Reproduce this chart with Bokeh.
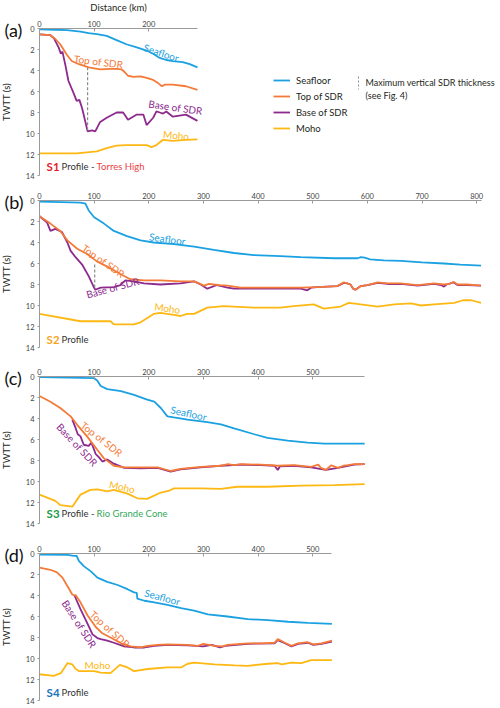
from bokeh.plotting import figure
from bokeh.models import Range1d, Label, Legend, LegendItem, Arrow, FixedTicker
from bokeh.layouts import column
from bokeh.embed import file_html
from bokeh.resources import INLINE
from bokeh.core.properties import value

# ---------------- data (distance km, TWTT s) ----------------
# Panel (a) S1 - Torres High
a_sea_x = [0, 30, 50, 75, 90, 105, 123, 141, 159, 178, 196, 208, 220, 232, 244, 262, 275, 289]
a_sea_y = [0.08, 0.12, 0.16, 0.29, 0.45, 0.54, 0.7, 1.1, 1.5, 1.8, 2.1, 2.4, 2.8, 3.0, 3.1, 3.2, 3.4, 3.7]
a_top_x = [0, 20, 29, 38, 50, 59, 72, 90, 111, 130, 141, 150, 155, 162, 172, 185, 196, 208, 217, 224, 229, 244, 268, 289]
a_top_y = [0.55, 0.64, 1.0, 1.5, 2.5, 3.1, 3.4, 3.7, 3.9, 3.85, 3.85, 3.9, 4.1, 4.5, 4.6, 4.55, 4.7, 4.9, 5.2, 5.5, 5.35, 5.35, 5.5, 5.85]
a_base_x = [0, 20, 26, 35, 39, 42, 47, 53, 62, 68, 73, 78, 84, 88, 96, 102, 111, 123, 141, 153, 162, 178, 190, 196, 208, 214, 220, 226, 232, 244, 268, 289]
a_base_y = [0.55, 0.64, 0.9, 1.8, 2.4, 2.2, 3.4, 5.0, 6.1, 6.9, 6.8, 7.6, 8.9, 9.8, 9.7, 9.8, 8.9, 8.5, 8.0, 8.0, 8.7, 8.2, 8.2, 9.2, 8.5, 7.9, 8.0, 8.1, 7.9, 8.4, 8.2, 8.8]
a_moho_x = [0, 68, 105, 123, 141, 159, 196, 205, 214, 226, 244, 268, 289]
a_moho_y = [11.9, 11.9, 11.7, 11.4, 11.15, 11.1, 11.1, 11.3, 11.1, 10.6, 10.7, 10.6, 10.55]
a_thick = [88, 3.7, 9.75]   # distance, top, base of maximum SDR thickness

# Panel (b) S2
b_sea_x = [0, 40, 75, 84, 90, 100, 118, 136, 160, 185, 209, 246, 283, 319, 356, 392, 441, 478, 539, 582, 588, 595, 605, 630, 661, 700, 740, 770, 808]
b_sea_y = [0.1, 0.15, 0.2, 0.3, 0.95, 1.6, 2.2, 2.9, 3.4, 3.8, 4.0, 4.15, 4.4, 4.7, 5.0, 5.2, 5.3, 5.4, 5.5, 5.5, 5.4, 5.45, 5.6, 5.7, 5.75, 5.9, 6.0, 6.1, 6.2]
b_top_x = [0, 20, 38, 51, 69, 87, 105, 124, 148, 166, 191, 221, 258, 283, 292, 301, 310, 319, 330, 344, 368, 417, 478, 508, 545, 557, 563, 569, 574, 578, 588, 600, 619, 637, 661, 692, 722, 740, 750, 758, 765, 783, 808]
b_top_y = [1.5, 2.2, 2.9, 3.8, 4.6, 5.1, 5.8, 6.3, 7.0, 7.5, 7.6, 7.6, 7.7, 7.7, 7.9, 8.1, 7.95, 8.0, 8.05, 8.1, 8.3, 8.3, 8.3, 8.25, 8.15, 7.8, 7.9, 8.0, 8.4, 8.5, 8.15, 8.05, 7.8, 7.9, 7.9, 8.05, 7.9, 8.0, 7.95, 7.75, 8.0, 8.0, 8.1]
b_base_x = [0, 14, 20, 29, 41, 51, 57, 66, 78, 90, 99, 102, 112, 136, 148, 157, 173, 191, 221, 258, 283, 295, 307, 325, 344, 356, 417, 478, 490, 497, 508, 545, 557, 563, 569, 574, 578, 588, 600, 619, 637, 661, 692, 722, 735, 740, 745, 758, 765, 783, 808]
b_base_y = [1.5, 2.1, 2.9, 2.7, 3.0, 4.0, 4.8, 5.4, 6.1, 7.2, 8.2, 8.5, 8.3, 8.25, 8.05, 7.6, 7.7, 7.9, 8.0, 7.9, 7.7, 8.0, 8.4, 8.05, 8.3, 8.4, 8.4, 8.4, 8.55, 8.3, 8.25, 8.15, 7.85, 7.9, 8.0, 8.4, 8.5, 8.15, 8.05, 7.85, 7.95, 7.95, 8.1, 7.95, 8.05, 8.2, 8.0, 7.8, 8.05, 8.05, 8.1]
b_moho_x = [0, 75, 130, 136, 173, 185, 209, 221, 246, 258, 270, 283, 307, 337, 392, 441, 465, 502, 520, 551, 566, 588, 619, 649, 680, 698, 722, 759, 775, 790, 808]
b_moho_y = [10.8, 11.5, 11.5, 11.8, 11.8, 11.6, 10.8, 10.7, 10.9, 11.0, 10.8, 10.8, 10.2, 10.05, 10.2, 10.2, 10.05, 9.9, 10.3, 10.1, 9.75, 9.9, 10.1, 9.9, 9.8, 10.0, 9.9, 9.75, 9.5, 9.5, 9.75]
b_thick = [101, 6.1, 8.4]

# Panel (c) S3 - Rio Grande Cone
c_sea_x = [0, 51, 100, 106, 112, 124, 149, 173, 197, 210, 222, 234, 246, 271, 307, 332, 356, 393, 417, 454, 491, 521, 540, 595]
c_sea_y = [0.05, 0.1, 0.16, 0.4, 0.9, 1.2, 1.4, 1.75, 2.2, 2.4, 3.0, 3.8, 3.9, 4.1, 4.35, 4.55, 4.95, 5.5, 5.85, 6.1, 6.3, 6.4, 6.4, 6.4]
c_top_x = [0, 20, 38, 57, 69, 87, 106, 118, 136, 155, 185, 216, 240, 258, 295, 332, 345, 355, 369, 405, 436, 466, 497, 510, 515, 524, 534, 546, 556, 564, 576, 595]
c_top_y = [1.85, 2.4, 3.0, 3.8, 4.6, 5.7, 7.0, 7.8, 8.5, 8.65, 8.65, 8.65, 9.0, 8.8, 8.6, 8.5, 8.35, 8.45, 8.35, 8.4, 8.5, 8.45, 8.6, 8.4, 8.7, 8.9, 8.45, 8.7, 8.5, 8.45, 8.35, 8.35]
c_base_x = [60, 66, 70, 75, 81, 90, 95, 103, 109, 115, 124, 136, 155, 185, 216, 240, 258, 295, 332, 369, 405, 430, 436, 440, 466, 497, 524, 546, 576, 595]
c_base_y = [4.1, 4.9, 5.5, 5.7, 6.5, 6.6, 6.3, 7.4, 7.7, 8.1, 7.9, 8.3, 8.7, 8.75, 8.7, 9.05, 8.85, 8.65, 8.5, 8.4, 8.45, 8.5, 8.9, 8.55, 8.5, 8.65, 8.9, 8.7, 8.4, 8.35]
c_moho_x = [0, 29, 38, 60, 75, 93, 106, 124, 136, 161, 179, 197, 222, 236, 246, 295, 332, 362, 417, 479, 540, 595]
c_moho_y = [11.25, 11.85, 12.25, 12.4, 11.25, 10.8, 10.75, 10.95, 10.8, 11.15, 11.6, 11.65, 11.05, 10.9, 10.65, 10.65, 10.7, 10.5, 10.5, 10.4, 10.35, 10.25]

# Panel (d) S4
d_sea_x = [0, 51, 63, 68, 72, 81, 94, 106, 124, 143, 161, 173, 178, 179, 192, 210, 234, 259, 283, 308, 344, 381, 418, 455, 491, 535]
d_sea_y = [0.1, 0.13, 0.22, 0.22, 0.7, 1.2, 1.7, 2.3, 2.7, 3.0, 3.4, 3.7, 3.75, 4.3, 4.5, 4.65, 4.9, 5.2, 5.45, 5.8, 6.0, 6.25, 6.35, 6.5, 6.6, 6.7]
d_top_x = [0, 20, 32, 42, 51, 60, 64, 66, 75, 88, 103, 115, 130, 149, 167, 185, 198, 216, 234, 271, 290, 300, 320, 335, 344, 381, 406, 430, 436, 449, 461, 473, 491, 501, 516, 535]
d_top_y = [1.35, 1.55, 1.8, 2.3, 3.1, 3.9, 4.0, 3.95, 4.65, 5.9, 7.0, 7.6, 8.0, 8.55, 8.85, 8.95, 8.8, 8.7, 8.65, 8.7, 8.8, 8.6, 8.8, 8.85, 8.7, 8.55, 8.55, 8.5, 8.15, 8.5, 8.8, 8.55, 8.45, 8.65, 8.55, 8.3]
d_base_x = [64, 75, 88, 97, 106, 112, 124, 136, 155, 173, 192, 210, 234, 271, 300, 315, 330, 340, 381, 430, 436, 449, 461, 473, 491, 501, 516, 535]
d_base_y = [4.0, 5.3, 6.7, 7.7, 8.05, 8.15, 8.3, 8.5, 8.85, 8.95, 8.95, 8.8, 8.7, 8.75, 8.85, 8.7, 8.95, 8.8, 8.6, 8.55, 8.25, 8.55, 8.85, 8.6, 8.5, 8.7, 8.6, 8.4]
d_moho_x = [0, 26, 39, 51, 60, 66, 72, 100, 112, 130, 147, 161, 173, 198, 234, 259, 271, 283, 320, 357, 381, 418, 436, 443, 461, 479, 497, 535]
d_moho_y = [11.5, 11.65, 11.4, 10.45, 10.55, 11.0, 11.2, 11.2, 11.35, 11.4, 10.6, 10.85, 11.2, 11.0, 10.85, 10.85, 10.5, 10.4, 10.55, 10.65, 10.7, 10.5, 10.45, 10.55, 10.4, 10.45, 10.15, 10.15]

x_max = [289, 808, 595, 535]
y_max = 14
y_ticks = [0, 2, 4, 6, 8, 10, 12, 14]
series_names = ["Seafloor", "Top of SDR", "Base of SDR", "Moho"]

# ---------------- style / layout ----------------
FONT = "Lato"
C_SEA, C_TOP, C_BASE, C_MOHO = "#1ba1e2", "#f47a38", "#8c2a8e", "#fdb813"
AX = "#9a9a9a"
W = 500          # figure width (px)
X0 = 39          # px from figure left edge to distance 0
KM_PX = 0.5465   # px per km
S_PX = 10.5      # px per second TWTT


def panel(i, top, height, zero, letter):
    xmax = x_max[i]
    y_top = -(zero - top) / S_PX
    y_bot = y_top + height / S_PX
    p = figure(width=W, height=height, x_range=Range1d(-X0 / KM_PX, (W - X0) / KM_PX),
               y_range=Range1d(y_bot, y_top), x_axis_location="above", title=None,
               output_backend="svg", toolbar_location=None, min_border=0)
    p.outline_line_color = None
    p.xgrid.visible = False
    p.ygrid.visible = False
    xa = p.xaxis[0]
    xa.fixed_location = 0
    xa.bounds = (0, xmax)
    xa.ticker = FixedTicker(ticks=list(range(0, xmax + 1, 100)))
    xa.major_tick_in = 3
    xa.major_tick_out = 0
    xa.major_label_standoff = 2
    ya = p.yaxis[0]
    ya.fixed_location = 0
    ya.bounds = (0, y_max)
    ya.ticker = FixedTicker(ticks=y_ticks)
    ya.major_tick_in = 0
    ya.major_tick_out = 2
    ya.major_label_standoff = 3
    ya.axis_label = "TWTT (s)"
    ya.axis_label_standoff = 11
    for ax in (xa, ya):
        ax.axis_label_text_font = FONT
        ax.axis_label_text_font_size = "9.5px"
        ax.axis_label_text_font_style = "normal"
        ax.axis_label_text_color = "#231f20"
        ax.axis_line_color = AX
        ax.major_tick_line_color = AX
        ax.minor_tick_line_color = None
        ax.major_label_text_font = FONT
        ax.major_label_text_font_size = "7.5px"
        ax.major_label_text_color = "#444444"
    p.add_layout(Label(x=4, y=0.15, x_units="screen", y_units="data", text=f"({letter})",
                       text_font=FONT, text_font_size="18px", text_baseline="middle",
                       text_color="#111111"))
    return p


def curves(p, sx, sy, tx, ty, bx, by, mx, my):
    r_sea = p.line(sx, sy, line_color=C_SEA, line_width=1.8)
    r_base = p.line(bx, by, line_color=C_BASE, line_width=1.8)
    r_top = p.line(tx, ty, line_color=C_TOP, line_width=1.8)
    r_moho = p.line(mx, my, line_color=C_MOHO, line_width=1.8)
    return r_sea, r_top, r_base, r_moho


def curve_labels(p, xs, ys, angles):
    cols = [C_SEA, C_TOP, C_BASE, C_MOHO]
    for name, x, y, a, c in zip(series_names, xs, ys, angles, cols):
        p.text(x=[x], y=[y], text=[name], angle=a, angle_units="deg", text_color=c,
               text_font=value(FONT), text_font_size="10px", text_align="center",
               text_baseline="middle")


def profile_label(p, tag, tag_color, extra=None, extra_color=None, y=13.1):
    p.text(x=[13], y=[y], text=[tag], text_color=tag_color, text_font=value(FONT),
           text_font_size="11.5px", text_font_style="bold", text_baseline="middle")
    p.text(x=[13], y=[y], x_offset=15, text=["Profile" + (" -" if extra else "")],
           text_color="#333333", text_font=value(FONT), text_font_size="9.5px",
           text_baseline="middle")
    if extra:
        p.text(x=[13], y=[y], x_offset=50, text=[extra], text_color=extra_color,
               text_font=value(FONT), text_font_size="9.5px", text_baseline="middle")


def thickness(p, t):
    p.segment(x0=[t[0]], y0=[t[1]], x1=[t[0]], y1=[t[2]], line_color="#8a8a8a",
              line_width=1.2, line_dash="3 2")


# ---- (a)
pa = panel(0, 0, 186, 28, "a")
pa.xaxis[0].axis_label = "Distance (km)"
pa.xaxis[0].axis_label_standoff = 5
ra = curves(pa, a_sea_x, a_sea_y, a_top_x, a_top_y, a_base_x, a_base_y, a_moho_x, a_moho_y)
thickness(pa, a_thick)
curve_labels(pa, [223, 108, 249, 250], [2.3, 3.15, 7.5, 10.15], [-18, -7, -8, -5])
profile_label(pa, "S1", "#e3202a", "Torres High", "#ee3e45")
leg = Legend(items=[LegendItem(label=n, renderers=[r]) for n, r in zip(series_names, ra)],
             location=(273, 52), orientation="vertical", padding=0, margin=0, spacing=4,
             label_height=12, glyph_height=12, glyph_width=17, label_standoff=6,
             label_text_font=FONT, label_text_font_size="9.5px", label_text_color="#231f20",
             border_line_alpha=0, background_fill_alpha=0)
pa.add_layout(leg)
pa.add_layout(Arrow(x_start=358, y_start=110, x_end=358, y_end=97, start_units="screen",
                    end_units="screen", end=None, line_color="#8a8a8a", line_width=1,
                    line_dash="2 2"))
pa.add_layout(Label(x=365, y=104, x_units="screen", y_units="screen",
                    text="Maximum vertical SDR thickness", text_font=FONT,
                    text_font_size="9px", text_baseline="middle", text_color="#231f20"))
pa.add_layout(Label(x=365, y=91, x_units="screen", y_units="screen",
                    text="(see Fig. 4)", text_font=FONT, text_font_size="9px",
                    text_baseline="middle", text_color="#231f20"))

# ---- (b)
pb = panel(1, 186, 176, 200, "b")
curves(pb, b_sea_x, b_sea_y, b_top_x, b_top_y, b_base_x, b_base_y, b_moho_x, b_moho_y)
thickness(pb, b_thick)
curve_labels(pb, [234, 117, 134, 234], [3.65, 5.75, 8.3, 10.25], [-8, -35, 15, -8])
profile_label(pb, "S2", "#f6a623", y=13.2)

# ---- (c)
pc = panel(2, 362, 176, 376, "c")
curves(pc, c_sea_x, c_sea_y, c_top_x, c_top_y, c_base_x, c_base_y, c_moho_x, c_moho_y)
curve_labels(pc, [273, 114, 69, 151], [3.5, 5.95, 6.5, 10.5], [-12, -38, -47, -12])
profile_label(pc, "S3", "#1e9b4b", "Rio Grande Cone", "#35a85a", y=13.05)

# ---- (d)
pd_ = panel(3, 538, 168, 553, "d")
curves(pd_, d_sea_x, d_sea_y, d_top_x, d_top_y, d_base_x, d_base_y, d_moho_x, d_moho_y)
curve_labels(pd_, [225, 129, 73, 106], [4.15, 7.2, 6.7, 10.6], [-15, -42, -57, 0])
profile_label(pd_, "S4", "#2173b8", y=13.2)

layout = column(pa, pb, pc, pd_, spacing=0)
open("out.html", "w").write(file_html(layout, INLINE))
